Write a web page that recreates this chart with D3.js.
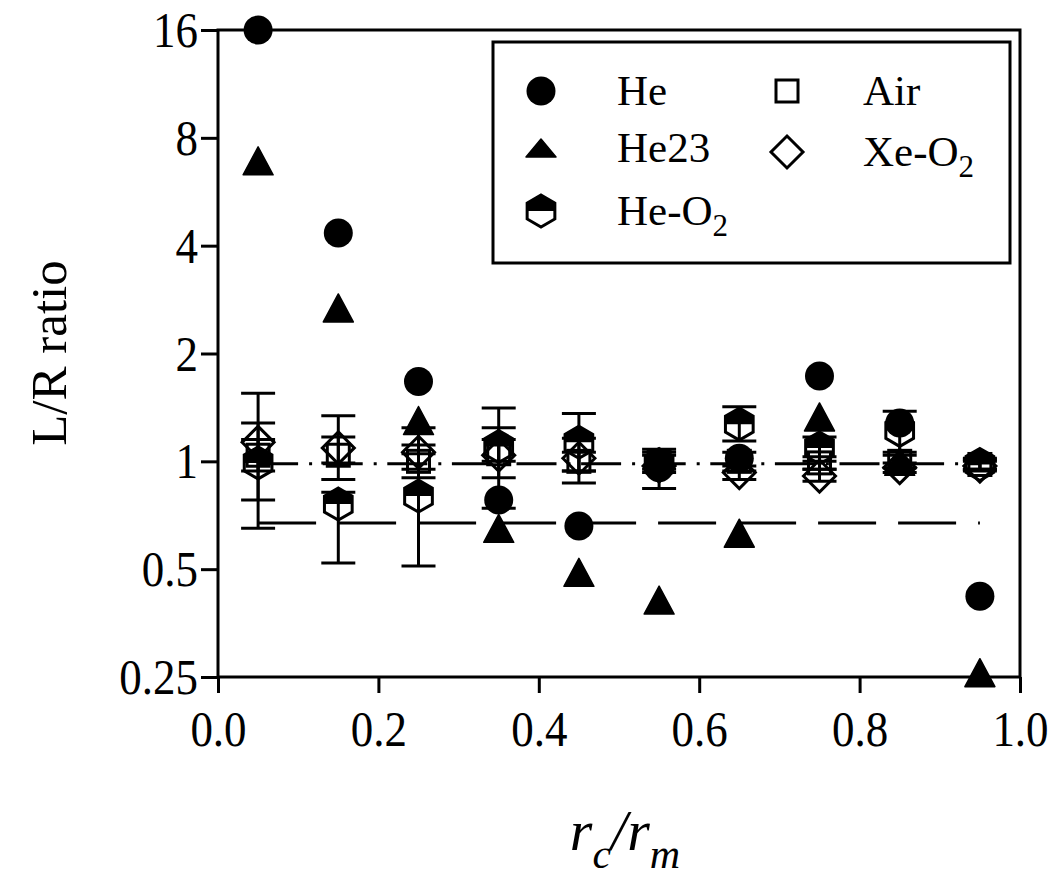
<!DOCTYPE html>
<html>
<head>
<meta charset="utf-8">
<title>L/R ratio</title>
<script src="https://d3js.org/d3.v7.min.js"></script>
<style>
  body { margin: 0; background: #fff; }
  text { font-family: "Liberation Serif", "Times New Roman", serif; fill: #000; }
</style>
</head>
<body>
<svg id="chart" width="1050" height="886"></svg>
<script>
// x positions (r_c/r_m)
const xVals = [0.05, 0.15, 0.25, 0.35, 0.45, 0.55, 0.65, 0.75, 0.85, 0.95];

// He (filled circle), He23 (filled triangle)
const heVals   = [16, 4.34, 1.67, 0.78, 0.66, 0.96, 1.02, 1.73, 1.28, 0.42];
const he23Vals = [6.9, 2.68, 1.30, 0.65, 0.49, 0.41, 0.63, 1.33, 1.0, 0.257];

// He-O2 (half filled hexagon) with error bars
const heO2Vals = [0.99, 0.76, 0.80, 1.10, 1.13, 0.98, 1.27, 1.09, 1.22, 0.98];
const heO2Lo   = [0.65, 0.52, 0.51, 0.90, 0.94, 0.84, 1.14, 1.00, 1.06, 0.95];
const heO2Hi   = [1.28, 0.82, 1.11, 1.41, 1.36, 1.08, 1.42, 1.17, 1.38, 1.02];

// Air (open square) with error bars
const airVals = [1.04, 1.04, 1.00, 1.05, 1.00, 1.00, 1.00, 0.99, 1.00, 0.98];
const airLo   = [0.94, 0.89, 0.90, 0.74, 0.87, 0.95, 0.94, 0.95, 0.96, 0.95];
const airHi   = [1.15, 1.17, 1.05, 1.24, 1.06, 1.06, 1.06, 1.03, 1.04, 1.01];

// Xe-O2 (open diamond) with error bars
const xeO2Vals = [1.13, 1.09, 1.06, 1.04, 1.02, 0.97, 0.93, 0.91, 0.96, 0.97];
const xeO2Lo   = [0.78, 0.99, 0.95, 1.00, 0.94, 0.93, 0.89, 0.88, 0.93, 0.94];
const xeO2Hi   = [1.55, 1.34, 1.24, 1.15, 1.16, 1.04, 0.97, 0.95, 0.99, 1.00];

// reference lines
const refDashDot = 0.985;
const refDashed = 0.673;
const refSpan = [0.05, 0.95];

const yTicks = [0.25, 0.5, 1, 2, 4, 8, 16];
const yTickLabels = ["0.25", "0.5", "1", "2", "4", "8", "16"];
const xTicks = [0, 0.2, 0.4, 0.6, 0.8, 1.0];

const svg = d3.select("#chart");
const pL = 218, pR = 1020, pT = 30, pB = 677;
const stretch = 1.12; // tick labels in the original are a little tall

const x = d3.scaleLinear().domain([0, 1]).range([pL, pR]);
const y = d3.scaleLog().base(2).domain([0.25, 16]).range([pB, pT]);

// axes
const yAxis = svg.append("g")
    .attr("transform", `translate(${pL},0)`)
    .call(d3.axisLeft(y).tickValues(yTicks).tickSize(17).tickPadding(3)
        .tickFormat((d, i) => yTickLabels[i]));
const xAxis = svg.append("g")
    .attr("transform", `translate(0,${pB})`)
    .call(d3.axisBottom(x).tickValues(xTicks).tickSize(16).tickPadding(14)
        .tickFormat(d3.format(".1f")));
[yAxis, xAxis].forEach(a => {
    a.select(".domain").remove();
    a.selectAll(".tick line").attr("stroke-width", 3);
    a.selectAll(".tick text").style("font-size", "45px")
        .attr("transform", `scale(1,${stretch})`);
});
yAxis.selectAll(".tick text").attr("dy", "0.33em");
xAxis.selectAll(".tick text").attr("y", 33 / stretch);

// frame
svg.append("rect")
    .attr("x", pL).attr("y", pT)
    .attr("width", pR - pL).attr("height", pB - pT)
    .attr("fill", "none").attr("stroke", "#000").attr("stroke-width", 3);

// reference lines
svg.append("line")
    .attr("x1", x(refSpan[0])).attr("x2", x(refSpan[1]))
    .attr("y1", y(refDashDot)).attr("y2", y(refDashDot))
    .attr("stroke", "#000").attr("stroke-width", 3)
    .attr("stroke-dasharray", "40,11,3,10.6");
svg.append("line")
    .attr("x1", x(refSpan[0])).attr("x2", x(refSpan[1]))
    .attr("y1", y(refDashed)).attr("y2", y(refDashed))
    .attr("stroke", "#000").attr("stroke-width", 3)
    .attr("stroke-dasharray", "58,22");

// error bars
const capW = 17;
function errorBars(vals, lo, hi) {
    const g = svg.append("g").attr("stroke", "#000").attr("stroke-width", 3);
    xVals.forEach((xv, i) => {
        const cx = x(xv);
        g.append("line").attr("x1", cx).attr("x2", cx).attr("y1", y(lo[i])).attr("y2", y(hi[i]));
        g.append("line").attr("x1", cx - capW).attr("x2", cx + capW).attr("y1", y(lo[i])).attr("y2", y(lo[i]));
        g.append("line").attr("x1", cx - capW).attr("x2", cx + capW).attr("y1", y(hi[i])).attr("y2", y(hi[i]));
    });
}
errorBars(heO2Vals, heO2Lo, heO2Hi);
errorBars(airVals, airLo, airHi);
errorBars(xeO2Vals, xeO2Lo, xeO2Hi);

// marker drawing helpers
const hexR = 16, hexW = hexR * Math.cos(Math.PI / 6);
function drawHex(g, cx, cy) {
    const full = [[0, -hexR], [hexW, -hexR / 2], [hexW, hexR / 2], [0, hexR], [-hexW, hexR / 2], [-hexW, -hexR / 2]];
    const topHalf = [[0, -hexR], [hexW, -hexR / 2], [hexW, 0], [-hexW, 0], [-hexW, -hexR / 2]];
    const toPath = pts => "M" + pts.map(p => (cx + p[0]) + "," + (cy + p[1])).join("L") + "Z";
    g.append("path").attr("d", toPath(full)).attr("fill", "none").attr("stroke", "#000").attr("stroke-width", 3);
    g.append("path").attr("d", toPath(topHalf)).attr("fill", "#000");
}
function drawSquare(g, cx, cy) {
    g.append("rect").attr("x", cx - 11).attr("y", cy - 11).attr("width", 22).attr("height", 22)
        .attr("fill", "none").attr("stroke", "#000").attr("stroke-width", 3);
}
function drawDiamond(g, cx, cy) {
    const r = 16;
    g.append("path").attr("d", `M${cx},${cy - r}L${cx + r},${cy}L${cx},${cy + r}L${cx - r},${cy}Z`)
        .attr("fill", "none").attr("stroke", "#000").attr("stroke-width", 3);
}
function drawCircle(g, cx, cy) {
    g.append("circle").attr("cx", cx).attr("cy", cy).attr("r", 14.5).attr("fill", "#000");
}
function drawTriangle(g, cx, cy, h = 14) {
    const w = 15;
    g.append("path").attr("d", `M${cx},${cy - h}L${cx + w},${cy + h}L${cx - w},${cy + h}Z`)
        .attr("fill", "#000").attr("stroke", "#000").attr("stroke-width", 1.5).attr("stroke-linejoin", "round");
}

const marks = svg.append("g");
xVals.forEach((xv, i) => drawHex(marks, x(xv), y(heO2Vals[i])));
xVals.forEach((xv, i) => drawSquare(marks, x(xv), y(airVals[i])));
xVals.forEach((xv, i) => drawDiamond(marks, x(xv), y(xeO2Vals[i])));
xVals.forEach((xv, i) => drawCircle(marks, x(xv), y(heVals[i])));
xVals.forEach((xv, i) => drawTriangle(marks, x(xv), y(he23Vals[i])));

// legend
const legend = svg.append("g");
legend.append("rect").attr("x", 493).attr("y", 42).attr("width", 517).attr("height", 221)
    .attr("fill", "#fff").attr("stroke", "#000").attr("stroke-width", 3);
const legendItems = [
    { name: "He", sub: "", draw: drawCircle, mx: 541, my: 91 },
    { name: "He23", sub: "", draw: (g, cx, cy) => drawTriangle(g, cx, cy, 9), mx: 541, my: 148 },
    { name: "He-O", sub: "2", draw: drawHex, mx: 541, my: 211 },
    { name: "Air", sub: "", draw: drawSquare, mx: 787, my: 91 },
    { name: "Xe-O", sub: "2", draw: drawDiamond, mx: 787, my: 152 }
];
legendItems.forEach(it => {
    it.draw(legend, it.mx, it.my);
    const t = legend.append("text").attr("x", it.mx + 76).attr("y", it.my + 14).style("font-size", "43px").text(it.name);
    if (it.sub) t.append("tspan").attr("dy", 11).style("font-size", "31px").text(it.sub);
});

// axis titles
svg.append("text")
    .attr("transform", "translate(66,353) rotate(-90)")
    .attr("text-anchor", "middle")
    .style("font-size", "51px")
    .text("L/R ratio");

const xl = svg.append("text")
    .attr("x", 625).attr("y", 850)
    .attr("text-anchor", "middle")
    .style("font-size", "58px").style("font-style", "italic");
xl.append("tspan").text("r");
xl.append("tspan").attr("dy", 18).style("font-size", "42px").text("c");
xl.append("tspan").attr("dy", -18).text("/r");
xl.append("tspan").attr("dy", 18).style("font-size", "42px").text("m");
</script>
</body>
</html>
